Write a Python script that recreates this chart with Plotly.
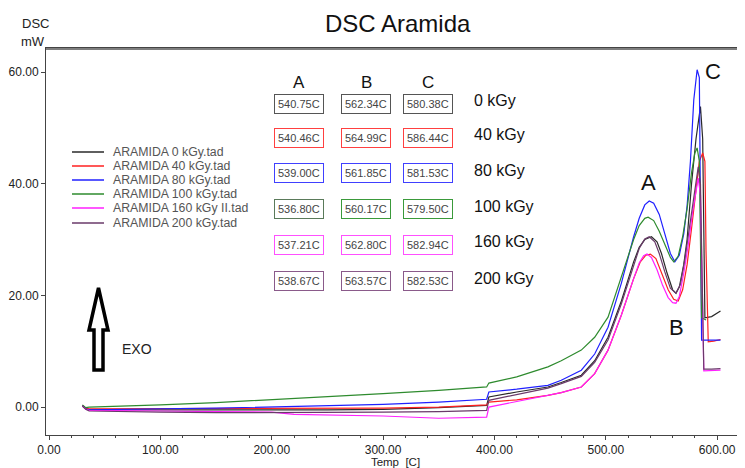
import plotly.graph_objects as go

# ---------------- data ----------------
series_names = ["ARAMIDA 0 kGy.tad", "ARAMIDA 40 kGy.tad", "ARAMIDA 80 kGy.tad",
                "ARAMIDA 100 kGy.tad", "ARAMIDA 160 kGy II.tad", "ARAMIDA 200 kGy.tad"]
series_colors = ["#2a2a2a", "#ff2020", "#2020ff", "#2e8b2e", "#ff20ff", "#6a3a6a"]

T_0 = [30, 33, 36, 60, 100, 150, 200, 250, 300, 350, 393, 395, 420, 448, 460, 478, 490, 502, 514, 525, 530, 535, 541, 546, 550, 555, 560, 563, 566, 570, 573, 577, 581, 585, 587, 589, 595, 603]
Y_0 = [0.3, -0.2, -0.5, -0.5, -0.5, -0.6, -0.6, -0.5, -0.4, -0.1, 0.3, 1.8, 2.7, 3.6, 4.4, 5.7, 8.3, 12.5, 19.0, 26.0, 28.6, 30.0, 30.5, 29.6, 27.5, 24.0, 21.0, 20.4, 21.5, 25.5, 30.0, 40.0, 48.0, 53.8, 48.0, 16.0, 16.2, 17.2]

T_40 = [30, 33, 36, 60, 100, 150, 200, 250, 300, 350, 393, 395, 420, 448, 460, 478, 490, 502, 514, 525, 531, 536, 540, 545, 550, 556, 561, 565, 569, 573, 577, 581, 584, 587, 589, 590, 592, 597, 603]
Y_40 = [0.2, -0.2, -0.3, -0.3, -0.2, -0.3, -0.3, -0.3, -0.2, 0.0, 0.4, 0.9, 1.3, 2.1, 2.6, 3.6, 6.0, 10.2, 16.5, 23.0, 26.0, 27.2, 27.4, 26.6, 24.2, 21.0, 19.3, 19.0, 21.0, 25.5, 32.0, 39.5, 44.0, 45.5, 44.0, 28.0, 11.7, 11.8, 12.1]

T_80 = [30, 33, 36, 60, 100, 150, 200, 250, 300, 350, 393, 395, 420, 448, 460, 478, 490, 502, 514, 525, 530, 535, 539, 543, 548, 553, 558, 562, 566, 570, 573, 576, 579, 582, 584, 586, 590, 603]
Y_80 = [0.2, -0.3, -0.5, -0.4, -0.3, -0.2, 0.0, 0.2, 0.5, 0.9, 1.4, 2.7, 3.2, 3.9, 4.8, 6.6, 9.5, 14.3, 22.2, 30.5, 33.8, 36.2, 36.9, 36.5, 34.5, 31.0, 27.5, 26.0, 27.2, 31.0, 36.0, 44.0, 55.0, 60.4, 59.0, 12.0, 12.0, 12.0]

T_100 = [30, 33, 36, 60, 100, 150, 200, 250, 300, 350, 393, 395, 420, 448, 460, 478, 490, 502, 514, 525, 530, 535, 538, 543, 548, 553, 558, 561, 565, 569, 573, 577, 580, 582, 584, 586, 590]
Y_100 = [0.4, -0.1, 0.0, 0.1, 0.4, 0.8, 1.3, 1.8, 2.4, 3.0, 3.6, 4.3, 5.4, 7.2, 8.3, 10.2, 12.5, 16.1, 23.3, 30.0, 32.5, 33.8, 34.0, 33.4, 31.5, 29.0, 26.8, 26.0, 27.0, 30.5, 35.5, 42.0, 45.5, 46.4, 44.0, 16.0, 15.6]

T_160 = [30, 33, 36, 60, 100, 150, 200, 220, 250, 300, 350, 393, 395, 420, 448, 460, 478, 490, 502, 514, 525, 530, 534, 537, 541, 546, 551, 556, 560, 563, 566, 570, 574, 578, 583, 585, 588, 595, 603]
Y_160 = [0.2, -0.4, -0.6, -0.6, -0.7, -0.8, -0.9, -1.3, -1.4, -1.6, -2.0, -1.8, 0.0, 1.0, 2.0, 2.6, 3.6, 6.0, 10.2, 16.5, 23.0, 25.8, 27.1, 27.4, 26.8, 24.6, 21.8, 19.6, 18.7, 18.6, 19.8, 24.0, 29.0, 35.0, 41.0, 38.0, 6.5, 6.5, 6.6]

T_200 = [30, 33, 36, 60, 100, 150, 200, 250, 300, 350, 393, 395, 420, 448, 460, 478, 490, 502, 514, 525, 530, 535, 539, 544, 548, 553, 558, 563, 567, 571, 575, 579, 583, 585, 588, 595, 603]
Y_200 = [0.2, -0.4, -0.7, -0.8, -0.9, -1.0, -1.0, -1.0, -0.9, -0.8, -0.6, 1.2, 2.3, 3.4, 4.2, 5.5, 8.0, 12.0, 18.5, 25.5, 28.4, 30.1, 30.5, 29.6, 27.5, 24.2, 21.3, 20.4, 22.0, 26.5, 32.0, 38.0, 43.0, 40.0, 6.8, 6.8, 6.9]

all_T = [T_0, T_40, T_80, T_100, T_160, T_200]
all_Y = [Y_0, Y_40, Y_80, Y_100, Y_160, Y_200]

# peak table
dose_labels = ["0 kGy", "40 kGy", "80 kGy", "100 kGy", "160 kGy", "200 kGy"]
peak_A = ["540.75C", "540.46C", "539.00C", "536.80C", "537.21C", "538.67C"]
peak_B = ["562.34C", "564.99C", "561.85C", "560.17C", "562.80C", "563.57C"]
peak_C = ["580.38C", "586.44C", "581.53C", "579.50C", "582.94C", "582.53C"]
box_colors_A = ["#555555", "#ff4040", "#4040ff", "#5a7a5a", "#ff50ff", "#8a5a8a"]
box_colors_BC = ["#555555", "#ff4040", "#4040ff", "#3a9a3a", "#ff50ff", "#8a5a8a"]

x_ticks = [0, 100, 200, 300, 400, 500, 600]
y_ticks = [0, 20, 40, 60]

# ---------------- figure ----------------
# page body has an 8px margin, so the figure is drawn 8px smaller and
# every position below is given in window (screen) pixels.
OFF = 8
W, H = 745 - OFF, 468 - OFF
PL, PR, PT, PB = 46, 745, 48, 435          # plot area in window pixels
L, T = PL - OFF, PT - OFF
R = (W + OFF) - PR
B = (H + OFF) - PB
pw, ph = PR - PL, PB - PT


def px(x):
    return (x - PL) / pw


def py(y):
    return (PB - y) / ph


FONT = "Liberation Sans, Arial, sans-serif"

fig = go.Figure()
for name, col, tx, ty in zip(series_names, series_colors, all_T, all_Y):
    fig.add_trace(go.Scatter(x=tx, y=ty, mode="lines", name=name,
                             line=dict(color=col, width=1.2), showlegend=False))

fig.update_layout(
    width=W, height=H,
    margin=dict(l=L, r=R, t=T, b=B),
    paper_bgcolor="white", plot_bgcolor="white",
    font=dict(family=FONT, size=11, color="#222"),
    showlegend=False,
    xaxis=dict(range=[-2.7, 625], tickvals=x_ticks, tickformat=".2f",
               showline=True, linecolor="#444", linewidth=1, mirror=True,
               ticks="outside", ticklen=4, tickcolor="#444",
               minor=dict(dtick=20, ticks="outside", ticklen=2, tickcolor="#444"),
               showgrid=False, zeroline=False,
               title=dict(text="Temp  [C]", font=dict(size=11.5), standoff=2),
               tickfont=dict(size=12)),
    yaxis=dict(range=[-5.0, 64.3], tickvals=y_ticks, tickformat=".2f",
               showline=True, linecolor="#444", linewidth=1,
               ticks="outside", ticklen=4, tickcolor="#444",
               showgrid=False, zeroline=False, tickfont=dict(size=12)),
)

ann = []
shapes = []

# top frame line (drawn just inside the plot area top)
shapes.append(dict(type="line", xref="paper", yref="paper", x0=0, x1=1,
                   y0=py(49), y1=py(49),
                   line=dict(color="#555", width=1.5), layer="above"))


def text_at(text, sx, sy, size, color="#111", xanchor="center", **kw):
    ann.append(dict(text=text, x=px(sx), y=py(sy), xref="paper", yref="paper",
                    xanchor=xanchor, yanchor="middle", showarrow=False,
                    font=dict(size=size, color=color), **kw))


text_at("DSC Aramida", 398, 23, 24)
text_at("DSC", 35, 24, 13, "#222")
text_at("mW", 33, 42, 13, "#222")
text_at("EXO", 137, 349, 14, "#222")
for lab, (xx, yy) in zip(["A", "B", "C"], [(648, 182), (676, 327), (713, 71)]):
    text_at(lab, xx, yy, 22)

# legend (drawn from the series names / colours)
leg_y = [152, 166, 180, 194, 208, 223]
for name, col, yy in zip(series_names, series_colors, leg_y):
    shapes.append(dict(type="line", xref="paper", yref="paper",
                       x0=px(72), x1=px(104), y0=py(yy), y1=py(yy),
                       line=dict(color=col, width=1.5)))
    text_at(name, 111, yy, 12.3, "#555", xanchor="left")

# peak table
col_x = [299, 366, 428]
for lab, xx in zip(["A", "B", "C"], col_x):
    text_at(lab, xx, 82, 17)
row_y = [104, 138, 173, 209, 245, 281]
for i, yy in enumerate(row_y):
    for j, (vals, cols) in enumerate([(peak_A, box_colors_A), (peak_B, box_colors_BC), (peak_C, box_colors_BC)]):
        text_at(vals[i], col_x[j], yy, 11, "#444",
                bordercolor=cols[i], borderwidth=1, borderpad=3, bgcolor="white")
    text_at(dose_labels[i], 472, yy - 3, 16, xanchor="left")

# hollow EXO arrow
pts = [(94, 370), (103, 370), (103, 330), (108, 330), (98.5, 288), (89, 330), (94, 330)]
path = "M " + " L ".join(f"{px(a):.5f},{py(b):.5f}" for a, b in pts) + " Z"
shapes.append(dict(type="path", xref="paper", yref="paper", path=path,
                   line=dict(color="black", width=3.5), fillcolor="white"))

fig.update_layout(annotations=ann, shapes=shapes)
fig.write_html("out.html")
